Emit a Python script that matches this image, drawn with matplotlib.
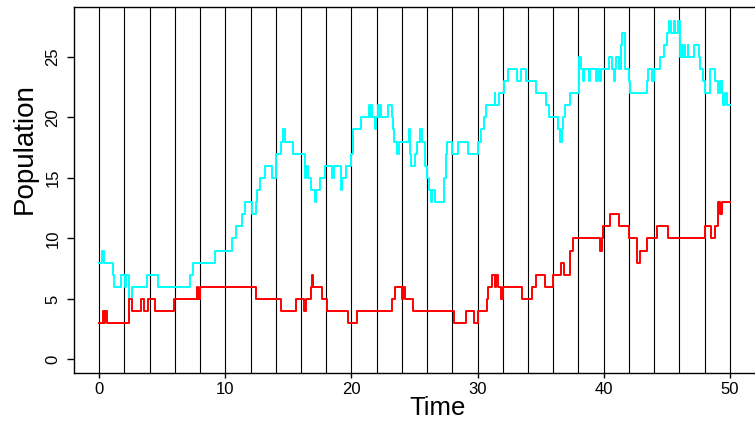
import matplotlib
matplotlib.use("Agg")
import matplotlib.pyplot as plt
import numpy as np

# ---- data (step-function breakpoints) ----
cyan_t = [0, 0.25, 0.35, 1.1, 1.2, 1.74, 2.05, 2.16, 2.37, 2.63, 3.79, 4.68, 7.2, 7.42,
          9.2, 10.5, 10.82, 11.29, 11.56, 12.08, 12.4, 12.55, 12.72, 13.14, 13.67, 14.0,
          14.45, 14.54, 14.72, 15.38, 16.28, 16.35, 16.42, 16.55, 16.83, 17.1, 17.16, 17.47,
          17.9, 18.45, 18.6, 19.18, 19.29, 19.55, 19.96, 20.13, 20.75, 21.38, 21.45, 21.52,
          21.6, 21.87, 21.95, 22.07, 22.2, 22.3, 22.38, 22.93, 23.2, 23.3, 23.4, 23.64,
          23.77, 24.56, 24.62, 24.72, 25.04, 25.22, 25.4, 25.6, 25.83, 26.0, 26.12, 26.28,
          26.4, 26.62, 27.33, 27.47, 27.6, 28.0, 28.47, 29.25, 30.04, 30.24, 30.55, 30.7,
          31.35, 31.42, 31.7, 32.1, 32.43, 33.14, 33.46, 33.83, 34.6, 35.42, 35.7, 36.4,
          36.55, 36.7, 36.8, 36.95, 37.36, 38.02, 38.05, 38.08, 38.2, 38.35, 38.45, 38.85,
          38.95, 39.4, 39.5, 39.65, 39.8, 40.4, 40.68, 40.82, 40.9, 41.0, 41.25, 41.35,
          41.45, 41.7, 42.0, 42.08, 43.4, 43.5, 43.8, 44.0, 44.5, 44.75, 45.0, 45.2, 45.3,
          45.55, 45.65, 45.9, 46.05, 46.18, 46.24, 46.38, 46.44, 46.66, 46.72, 47.2, 47.55,
          47.65, 47.85, 48.0, 48.42, 48.82, 49.1, 49.25, 49.35, 49.5, 49.65, 49.78, 50.0]
cyan_v = [8, 9, 8, 7, 6, 7, 6, 7, 5, 6, 7, 6, 7, 8,
          9, 10, 11, 12, 13, 12, 13, 14, 15, 16, 15, 17,
          18, 19, 18, 17, 16, 15, 16, 15, 14, 13, 14, 15,
          16, 15, 16, 14, 15, 16, 17, 19, 20, 21, 20, 21,
          20, 19, 20, 21, 20, 21, 20, 21, 20, 19, 18, 17,
          18, 19, 17, 16, 17, 18, 19, 18, 16, 15, 14, 13,
          14, 13, 15, 17, 18, 17, 18, 17, 18, 19, 20, 21,
          22, 21, 22, 23, 24, 23, 24, 23, 22, 21, 20, 19,
          18, 19, 20, 21, 22, 23, 24, 25, 24, 23, 24, 23,
          24, 23, 24, 23, 24, 25, 24, 23, 24, 25, 24, 26,
          27, 24, 23, 22, 23, 24, 23, 24, 25, 26, 27, 28, 27,
          28, 27, 28, 25, 26, 25, 26, 25, 26, 25, 26, 25,
          24, 23, 22, 24, 23, 22, 23, 22, 21, 22, 21, 21]

red_t = [0, 0.26, 0.37, 0.47, 0.63, 2.37, 2.58, 3.32, 3.53, 3.9, 4.42, 5.95, 7.74, 7.84,
         7.97, 12.4, 14.4, 15.62, 16.2, 16.42, 16.8, 16.85, 16.92, 17.7, 18.1, 19.72, 20.42,
         23.19, 23.46, 24.0, 24.1, 24.26, 24.9, 28.14, 29.12, 29.72, 30.03, 30.77, 30.85,
         31.16, 31.35, 31.5, 31.6, 31.85, 32.0, 33.54, 34.33, 34.67, 35.38, 35.99, 36.62,
         36.83, 37.3, 37.57, 39.68, 39.85, 39.93, 40.53, 41.2, 41.97, 42.67, 42.9, 43.4,
         44.2, 45.12, 48.0, 48.55, 48.82, 49.08, 49.22, 49.35, 50.0]
red_v = [3, 4, 3, 4, 3, 5, 4, 5, 4, 5, 4, 5, 6, 5,
         6, 5, 4, 5, 4, 5, 6, 7, 6, 5, 4, 3, 4,
         5, 6, 5, 6, 5, 4, 3, 4, 3, 4, 5, 6,
         7, 6, 7, 6, 5, 6, 5, 6, 7, 6, 7, 8,
         7, 9, 10, 9, 10, 11, 12, 11, 10, 8, 9, 10,
         11, 10, 11, 10, 11, 13, 12, 13, 13]

vlines_t = list(range(0, 51, 2))
x_ticks = [0, 10, 20, 30, 40, 50]
y_ticks = [0, 5, 10, 15, 20, 25]

# ---- figure ----
plt.rcParams['font.family'] = ['Liberation Sans', 'DejaVu Sans']
W, H = 755, 421
fig = plt.figure(figsize=(W / 100, H / 100), dpi=100)
ax = fig.add_axes([74 / W, 48 / H, 1 - 74 / W, (373 - 7) / H])

for t in vlines_t:
    ax.axvline(t, color='black', lw=0.8, zorder=1)

ax.step(cyan_t, cyan_v, where='post', color='#00FFFF', lw=1.4, zorder=2)
ax.step(red_t, red_v, where='post', color='#FF0000', lw=1.4, zorder=2)

ax.set_xlim(-2, 52)
ax.set_ylim(-1.12, 29.12)
ax.set_xticks(x_ticks)
ax.set_yticks(y_ticks)
ax.spines['right'].set_visible(False)
for s in ['left', 'bottom', 'top']:
    ax.spines[s].set_linewidth(1.0)

ax.tick_params(axis='x', length=3.8, width=1, labelsize=12, pad=3)
ax.tick_params(axis='y', length=5, width=1, labelsize=12, pad=4.7)
for lbl in ax.get_yticklabels():
    lbl.set_rotation(90)
    lbl.set_va('center')

# axis titles placed where the reference has them
fig.text(438 / W, (H - 415) / H, 'Time', fontsize=18.5, ha='center', va='baseline')
fig.text(32 / W, (H - 149) / H, 'Population', fontsize=20, rotation=90,
         rotation_mode='anchor', ha='center', va='baseline')

fig.savefig('out.png', dpi=100)
